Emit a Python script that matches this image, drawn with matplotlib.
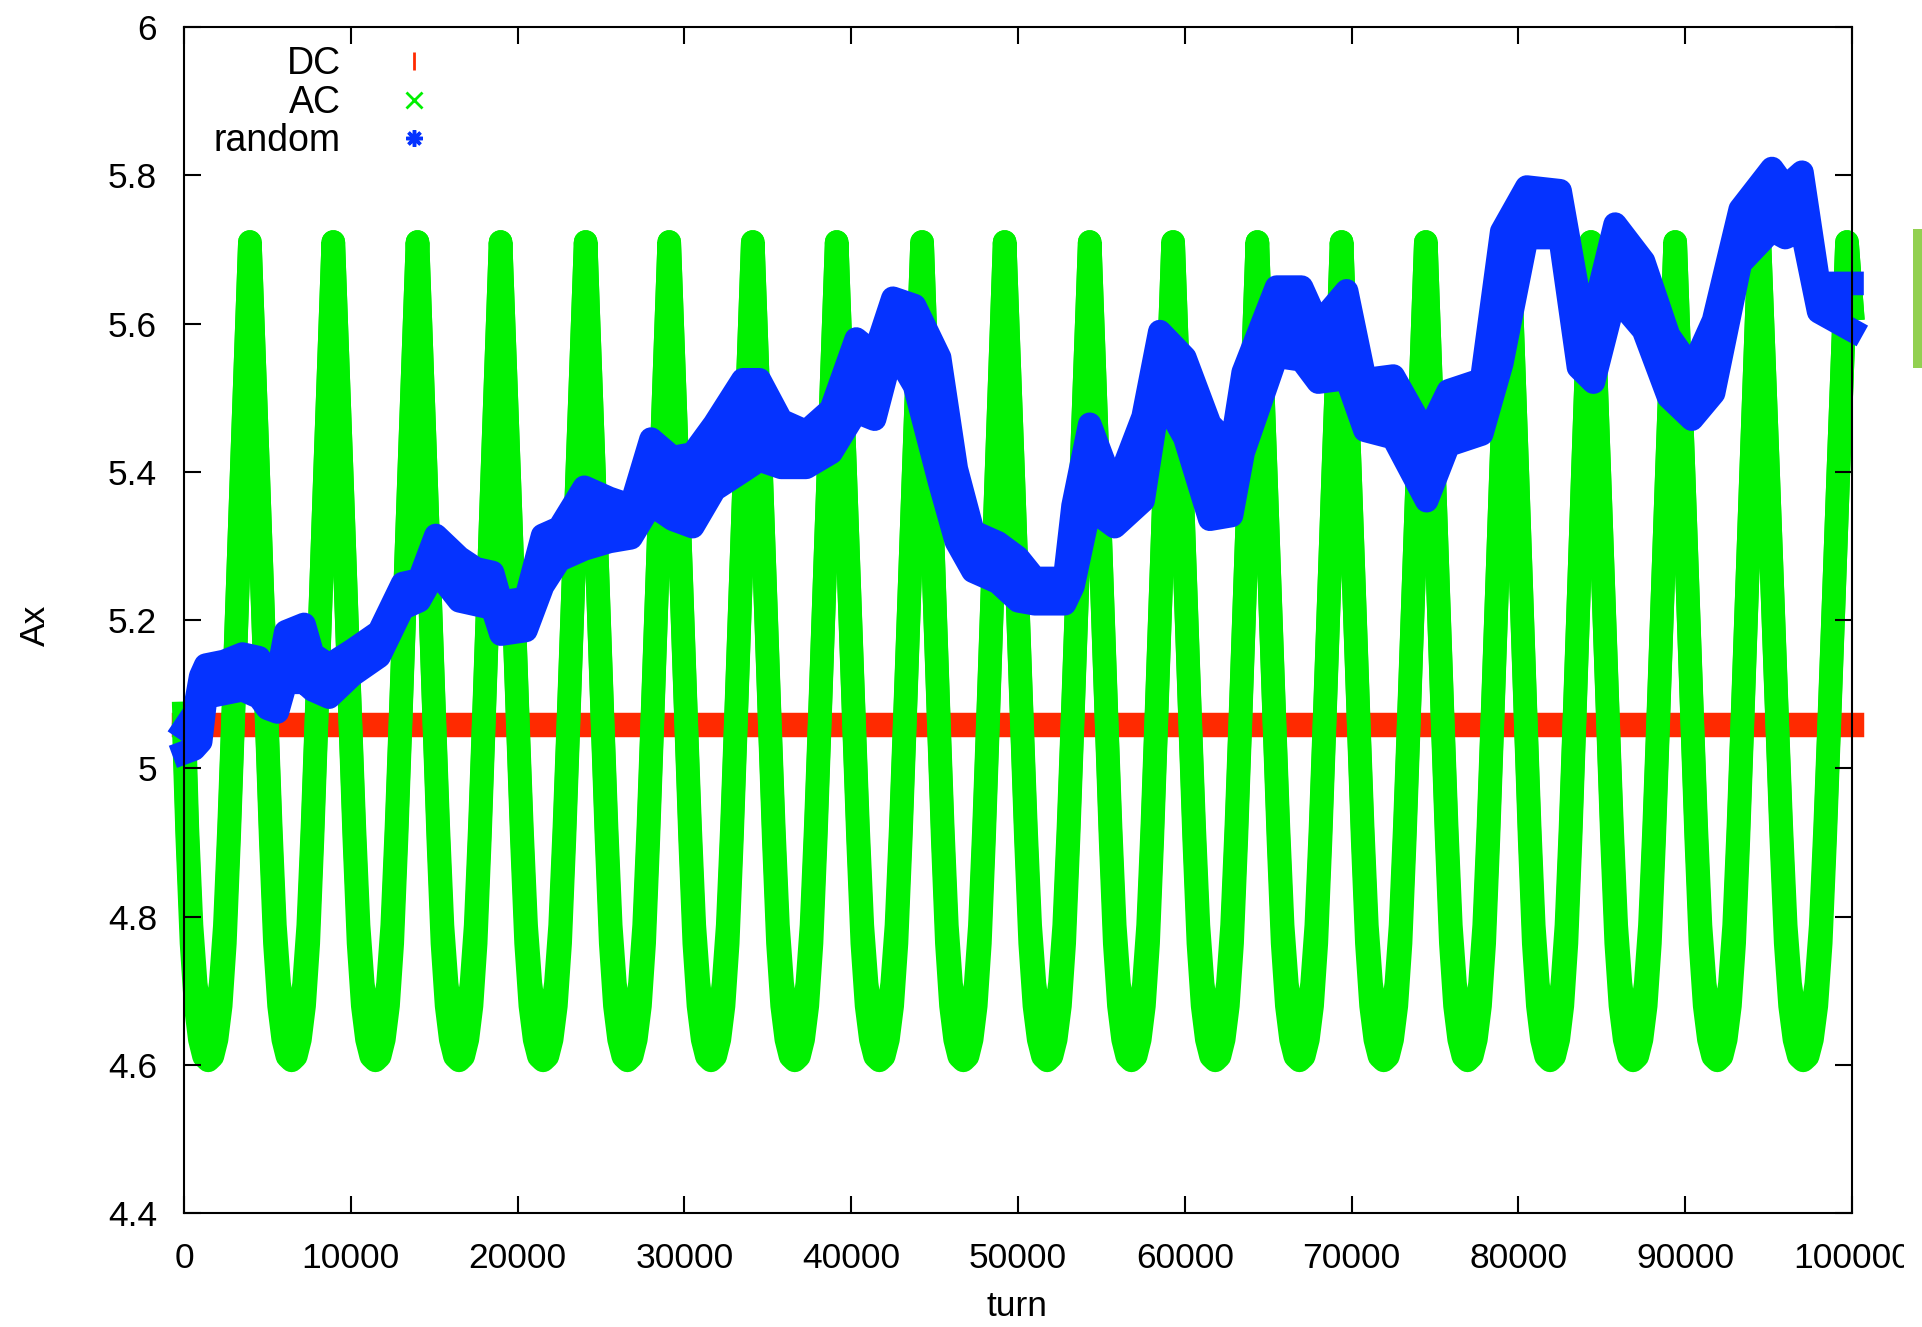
import numpy as np
import matplotlib.pyplot as plt
from matplotlib.lines import Line2D
from matplotlib.patches import Rectangle

plt.rcParams['font.family'] = ['Liberation Sans', 'DejaVu Sans']

RED = '#ff2a00'
GREEN = '#00f000'
BLUE = '#0533ff'

# DC kick: Ax stays put
DC_TURN = [0, 100000]
DC_AX = [5.058, 5.058]

# AC kick: turns where the slow Ax oscillation peaks
AC_PEAK_TURN = [-1050, 3950, 8950, 14000, 18980, 24080, 29090, 34100, 39130,
                44250, 49200, 54300, 59300, 64350, 69400, 74450, 79450,
                84350, 89400, 94450, 99700]
AC_TOP = 5.71
AC_BOTTOM = 4.624
AC_START = 5.06
AC_END = 5.62
# one half cycle, peak -> trough: fraction of the swing, and half width of the fast jitter
AC_HALF_PHASE = [0.0, 0.1, 0.2, 0.3, 0.4, 0.5, 0.6, 0.7, 0.8, 0.9, 1.0]
AC_HALF_DROP = [0.0, 0.145, 0.29, 0.44, 0.59, 0.735, 0.86, 0.935, 0.975, 0.995, 1.0]
AC_HALF_SPREAD = [0.0, 0.005, 0.01, 0.015, 0.02, 0.024, 0.028, 0.031, 0.033, 0.034, 0.034]

# random kick: upper / lower edge of the Ax band
RANDOM_TURN = [0, 600, 1000, 1300, 2400, 3500, 4500, 5000, 5600, 6100, 7200, 7700,
               8700, 10100, 11700, 13100, 14100, 15100, 16500,
               17500, 18500, 19000, 20500, 21500, 22500, 24000, 25500, 26800,
               28000, 29300, 30500, 31800, 33500,
               34500, 35800, 37300, 38800, 40300, 41400, 42500, 43800, 45300,
               46300, 47300, 48800, 50000,
               51000, 52800, 53300, 54300, 55800, 57500, 58500, 60000, 61500,
               62800, 63500, 65500,
               67000, 68000, 69700, 70800, 72500, 74500, 75800, 77800, 79000,
               80500, 82500, 83600,
               84500, 85800, 87500, 89000, 90400, 91700, 93300, 95200, 96000,
               97000, 98000, 100000]
RANDOM_HI = [5.07, 5.09, 5.14, 5.155, 5.16, 5.17, 5.165, 5.145, 5.14, 5.20, 5.21, 5.17,
             5.155, 5.175, 5.20, 5.265, 5.27, 5.33, 5.30,
             5.285, 5.28, 5.24, 5.245, 5.33, 5.34, 5.395, 5.38, 5.37,
             5.46, 5.435, 5.44, 5.48, 5.54,
             5.54, 5.485, 5.47, 5.50, 5.595, 5.575, 5.65, 5.64, 5.57,
             5.42, 5.335, 5.32, 5.30,
             5.272, 5.272, 5.37, 5.48, 5.39, 5.49, 5.605, 5.57, 5.48,
             5.45, 5.55, 5.665,
             5.665, 5.615, 5.66, 5.54, 5.545, 5.465, 5.525, 5.54, 5.74,
             5.80, 5.795, 5.655,
             5.63, 5.75, 5.70, 5.60, 5.555, 5.62, 5.77, 5.825, 5.80,
             5.82, 5.67, 5.67]
RANDOM_LO = [5.005, 5.01, 5.02, 5.08, 5.085, 5.09, 5.08, 5.065, 5.06, 5.10, 5.10, 5.09,
             5.08, 5.11, 5.135, 5.20, 5.21, 5.25, 5.21,
             5.205, 5.20, 5.165, 5.17, 5.23, 5.265, 5.28, 5.29, 5.295,
             5.34, 5.32, 5.31, 5.36, 5.385,
             5.40, 5.39, 5.39, 5.41, 5.465, 5.455, 5.55, 5.50, 5.37,
             5.29, 5.25, 5.235, 5.21,
             5.206, 5.206, 5.23, 5.335, 5.31, 5.345, 5.49, 5.43, 5.32,
             5.325, 5.41, 5.54,
             5.535, 5.505, 5.51, 5.44, 5.43, 5.345, 5.42, 5.435, 5.53,
             5.70, 5.70, 5.525,
             5.505, 5.62, 5.575, 5.485, 5.455, 5.49, 5.665, 5.71, 5.70,
             5.71, 5.60, 5.575]

LEGEND_LABELS = ['DC', 'AC', 'random']
XTICKS = list(range(0, 100001, 10000))
YTICKS = [4.4, 4.6, 4.8, 5.0, 5.2, 5.4, 5.6, 5.8, 6.0]
YTICK_LABELS = ['4.4', '4.6', '4.8', '5', '5.2', '5.4', '5.6', '5.8', '6']

W, H = 1922, 1327
AX_BOX = (184, 27, 1852, 1213)      # left, top, right, bottom in pixels
PX_PER_AX = (AX_BOX[3] - AX_BOX[1]) / 1.6
POINT_LW = 17.0                       # stroke width standing in for the point size


def stroke_half():
    return POINT_LW * 100 / 72 / 2 / PX_PER_AX


def ac_trace():
    """Stitch the half-cycle shape between successive peaks."""
    phase = np.array(AC_HALF_PHASE)
    drop = np.array(AC_HALF_DROP)
    spread = np.array(AC_HALF_SPREAD)
    swing = AC_TOP - AC_BOTTOM
    t, y, s = [], [], []
    for p0, p1 in zip(AC_PEAK_TURN[:-1], AC_PEAK_TURN[1:]):
        half = (p1 - p0) / 2.0
        # going down from p0
        t.extend(p0 + phase[:-1] * half)
        y.extend(AC_TOP - drop[:-1] * swing)
        s.extend(spread[:-1])
        # coming back up to p1
        t.extend(p1 - phase[::-1][:-1] * half)
        y.extend(AC_TOP - drop[::-1][:-1] * swing)
        s.extend(spread[::-1][:-1])
    t.append(AC_PEAK_TURN[-1])
    y.append(AC_TOP)
    s.append(0.0)
    t, y, s = np.array(t), np.array(y), np.array(s)
    keep = (t > 0) & (t < 100000)
    t = np.concatenate([[0], t[keep], [100000]])
    y = np.concatenate([[AC_START], y[keep], [AC_END]])
    s = np.concatenate([[0.03], s[keep], [0.0]])
    return t, y - s, y + s


def point_band(ax, t, lo, hi, color, z):
    """Band between lo and hi, grown by the point size in every direction."""
    h = stroke_half()
    lo = np.asarray(lo, float) + h
    hi = np.asarray(hi, float) - h
    mid = (lo + hi) / 2
    lo = np.minimum(lo, mid)
    hi = np.maximum(hi, mid)
    ax.fill_between(t, lo, hi, color=color, lw=0, clip_on=False, zorder=z)
    for edge in (lo, hi):
        ax.plot(t, edge, color=color, lw=POINT_LW, solid_joinstyle='round',
                solid_capstyle='projecting', clip_on=False, zorder=z)


fig = plt.figure(figsize=(W / 100, H / 100), dpi=100)
l, t_, r, b = AX_BOX
ax = fig.add_axes([l / W, 1 - b / H, (r - l) / W, (b - t_) / H])

# DC
ax.plot(DC_TURN, DC_AX, color=RED, lw=17.6, solid_capstyle='projecting',
        clip_on=False, zorder=1)

# AC
t_ac, lo_ac, hi_ac = ac_trace()
point_band(ax, t_ac, lo_ac, hi_ac, GREEN, 1.5)

# random
point_band(ax, RANDOM_TURN, RANDOM_LO, RANDOM_HI, BLUE, 2)

ax.set_xlim(0, 100000)
ax.set_ylim(4.4, 6.0)
ax.set_xticks(XTICKS)
ax.set_xticklabels([str(v) for v in XTICKS])
ax.set_yticks(YTICKS)
ax.set_yticklabels(YTICK_LABELS)
ax.tick_params(direction='in', length=12, width=1.5, top=True, right=True,
               labelsize=25.5)
ax.tick_params(axis='x', pad=21)
ax.tick_params(axis='y', pad=19.4)
for sp in ax.spines.values():
    sp.set_linewidth(1.5)

fig.text(35 / W, 1 - 625 / H, 'Ax', rotation=90, ha='center', va='center',
         fontsize=25.5)
fig.text(1017 / W, 1 - 1306 / H, 'turn', ha='center', va='center', fontsize=25.5)

handles = [
    Line2D([], [], ls='none', marker='|', ms=13, mew=2, color=RED),
    Line2D([], [], ls='none', marker='x', ms=12, mew=2, color=GREEN),
    Line2D([], [], ls='none', marker=(8, 2, 0), ms=12, mew=2.5, color=BLUE),
]
ax.legend(handles, LEGEND_LABELS, loc='upper left',
          bbox_to_anchor=(214 / W, 1 - 46 / H), bbox_transform=fig.transFigure,
          markerfirst=False, frameon=False, borderpad=0, borderaxespad=0,
          handlelength=1.0, handletextpad=1.45, labelspacing=0.07, fontsize=27)

# canvas edge on the right (clips the last tick label) and the stray strip beyond it
fig.add_artist(Rectangle((1904 / W, 0), 18 / W, 1, transform=fig.transFigure,
                         facecolor='white', edgecolor='none', zorder=10))
fig.add_artist(Rectangle((1913 / W, 1 - 368 / H), 9 / W, 139 / H,
                         transform=fig.transFigure, facecolor='#92d050',
                         edgecolor='none', zorder=11))

fig.savefig('out.png', dpi=100)
